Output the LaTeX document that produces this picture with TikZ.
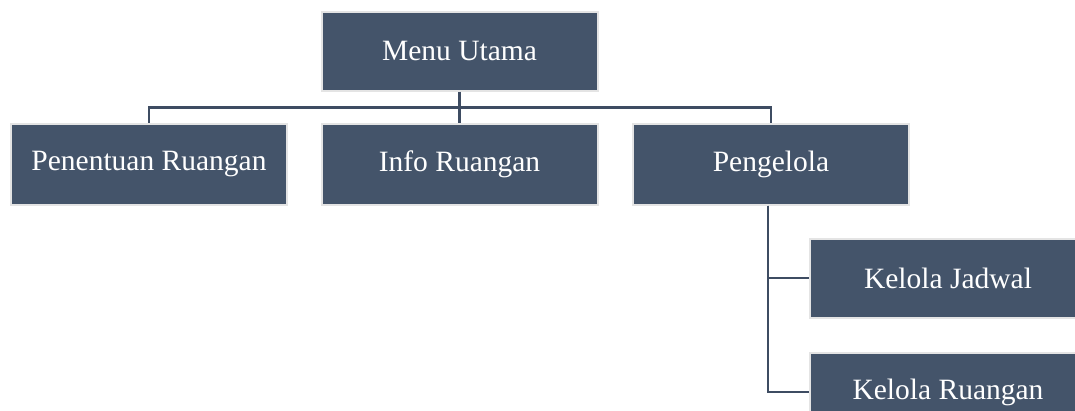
\documentclass[tikz,border=0pt]{standalone}
\usepackage{fontspec}
\setmainfont{Liberation Serif}
\definecolor{boxfill}{HTML}{44546A}
\definecolor{boxedge}{HTML}{E4E4E4}
\definecolor{linecol}{HTML}{3E4C62}
\begin{document}
\begin{tikzpicture}[x=1pt,y=-1pt,
  menubox/.style={draw=boxedge, line width=2pt, fill=boxfill, text=white,
    minimum width=276pt, minimum height=79pt, inner sep=0pt,
    font=\fontsize{29.5}{34}\selectfont},
  conn/.style={draw=linecol, line width=2.6pt}]
\useasboundingbox (0,0) rectangle (1075,410);
\clip (0,0) rectangle (1075,410);
\node[menubox] (menu) at (459.5,51) {Menu Utama};
\node[menubox, minimum height=81pt] (pen) at (149,164) {Penentuan Ruangan};
\node[menubox, minimum height=81pt] (info) at (459.5,164) {Info Ruangan};
\node[menubox, minimum height=81pt] (peng) at (771,164) {Pengelola};
\node[menubox] (kj) at (948,278) {Kelola Jadwal};
\node[menubox] (kr) at (948,392) {Kelola Ruangan};
\coordinate (bus) at (0,107.5);
\draw[conn] (menu.south) -- (info.north);
\draw[conn] (pen.north) |- (bus -| info.north) -| (peng.north);
\coordinate (stem) at ([xshift=-3pt]peng.south);
\draw[conn] (stem) |- (kj.west);
\draw[conn] (stem) |- (kr.west);
\end{tikzpicture}
\end{document}
